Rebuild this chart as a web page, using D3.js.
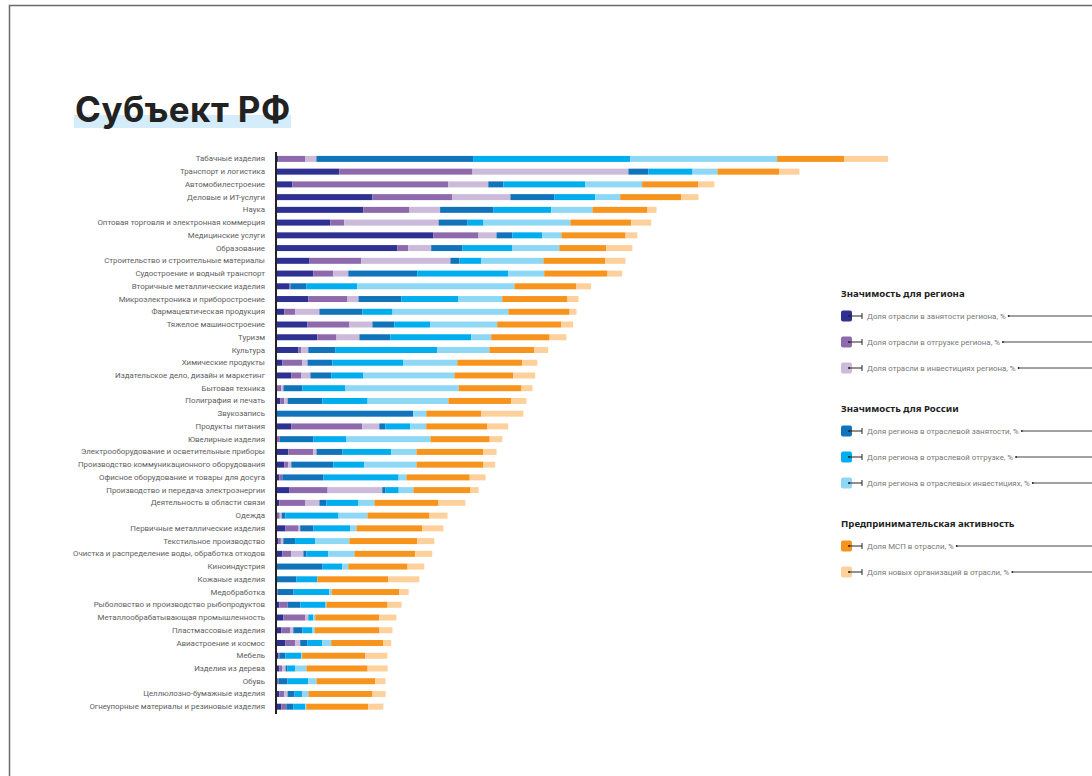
<!DOCTYPE html>
<html lang="ru">
<head>
<meta charset="utf-8">
<script src="https://cdn.jsdelivr.net/npm/d3@7"></script>
<style>
  html, body { margin: 0; padding: 0; background: #fff; }
  svg { display: block; }
</style>
</head>
<body>
<svg id="chart" width="1092" height="776"></svg>
<script>
// Отрасли (сверху вниз)
const categories = [
  "Табачные изделия", "Транспорт и логистика", "Автомобилестроение", "Деловые и ИТ-услуги",
  "Наука", "Оптовая торговля и электронная коммерция", "Медицинские услуги", "Образование",
  "Строительство и строительные материалы", "Судостроение и водный транспорт",
  "Вторичные металлические изделия", "Микроэлектроника и приборостроение",
  "Фармацевтическая продукция", "Тяжелое машиностроение", "Туризм", "Культура",
  "Химические продукты", "Издательское дело, дизайн и маркетинг", "Бытовая техника",
  "Полиграфия и печать", "Звукозапись", "Продукты питания", "Ювелирные изделия",
  "Электрооборудование и осветительные приборы", "Производство коммуникационного оборудования",
  "Офисное оборудование и товары для досуга", "Производство и передача электроэнергии",
  "Деятельность в области связи", "Одежда", "Первичные металлические изделия",
  "Текстильное производство", "Очистка и распределение воды, обработка отходов",
  "Киноиндустрия", "Кожаные изделия", "Медобработка", "Рыболовство и производство рыбопродуктов",
  "Металлообрабатывающая промышленность", "Пластмассовые изделия", "Авиастроение и космос",
  "Мебель", "Изделия из дерева", "Обувь", "Целлюлозно-бумажные изделия",
  "Огнеупорные материалы и резиновые изделия"
];

// Значимость для региона
const empRegion = [2.0, 62.9, 15.9, 95.9, 86.9, 53.9, 156.7, 120.8, 33.1, 36.7, 13.1, 31.8, 7.8, 31.0, 40.8, 22.0, 5.7, 14.7, 0, 3.7, 0, 14.7, 0, 11.8, 7.8, 2.9, 13.1, 2.9, 1.2, 9.0, 2.0, 5.7, 0, 0, 0, 2.9, 6.9, 4.9, 9.0, 2.0, 2.9, 1.2, 2.9, 4.9];
const shipRegion = [26.9, 133.1, 155.9, 80.0, 46.1, 13.9, 45.3, 11.0, 51.8, 20.0, 0.8, 39.2, 11.0, 42.0, 19.2, 2.9, 20.0, 10.2, 4.9, 4.1, 0, 71.0, 3.3, 24.9, 4.1, 2.9, 38.0, 26.1, 2.0, 13.1, 2.4, 9.0, 0, 0, 1.2, 8.2, 22.0, 9.0, 9.8, 0.8, 2.9, 0.8, 4.9, 4.9];
const invRegion = [11.0, 155.9, 40.0, 58.0, 30.6, 94.3, 18.0, 22.9, 89.0, 15.1, 0, 11.0, 24.1, 22.9, 22.9, 6.9, 5.3, 9.0, 2.0, 3.3, 0, 17.1, 0, 3.3, 2.9, 0, 54.7, 13.9, 2.0, 1.6, 2.4, 12.2, 0, 0, 0, 0, 2.9, 2.9, 4.9, 0, 3.3, 0, 3.3, 0];
// Значимость для России
const empRussia = [156.7, 20.0, 15.1, 44.1, 53.1, 29.0, 15.9, 31.0, 9.0, 69.0, 15.9, 42.9, 42.9, 22.0, 31.0, 26.9, 24.9, 20.8, 18.8, 34.7, 136.7, 6.1, 33.5, 25.7, 42.0, 41.2, 2.9, 6.9, 3.7, 13.1, 11.8, 2.9, 45.7, 20.0, 15.9, 12.7, 0, 9.0, 7.3, 6.1, 2.0, 9.0, 6.9, 6.9];
const shipRussia = [157.1, 44.1, 82.0, 40.8, 58.0, 15.9, 29.8, 50.2, 22.0, 91.0, 51.0, 57.1, 30.2, 35.9, 80.8, 102.0, 71.0, 32.2, 43.3, 45.3, 0, 24.9, 33.1, 49.0, 31.0, 75.1, 13.5, 32.2, 53.1, 37.1, 20.0, 22.0, 20.0, 20.8, 35.9, 25.3, 4.9, 10.2, 14.7, 15.9, 7.8, 20.8, 7.8, 12.2];
const invRussia = [146.9, 24.9, 56.7, 24.9, 41.2, 86.9, 19.2, 46.9, 62.0, 35.9, 157.1, 43.7, 115.9, 66.9, 20.0, 52.2, 53.9, 91.0, 113.1, 80.8, 13.1, 15.9, 84.1, 25.3, 52.2, 7.8, 14.7, 15.9, 29.0, 6.1, 34.3, 26.1, 6.1, 0, 2.0, 0.8, 2.0, 2.0, 9.0, 0.8, 11.0, 8.2, 6.1, 0.8];
// Предпринимательская активность
const smeShare = [66.9, 62.0, 56.3, 61.2, 55.1, 60.8, 64.1, 46.9, 62.0, 63.3, 62.0, 65.3, 61.2, 64.1, 58.4, 44.9, 64.9, 58.8, 62.9, 62.9, 55.1, 61.2, 59.2, 66.9, 66.9, 63.3, 57.1, 64.1, 62.0, 65.7, 67.8, 60.8, 59.2, 71.0, 67.8, 61.2, 64.1, 64.9, 52.2, 63.3, 61.2, 58.8, 64.1, 62.0];
const newOrgShare = [44.1, 20.0, 15.9, 17.1, 9.0, 20.0, 11.8, 26.1, 20.0, 14.7, 14.7, 11.0, 6.9, 11.8, 16.7, 13.9, 15.1, 22.0, 11.0, 15.1, 42.0, 20.8, 12.7, 13.1, 11.8, 15.9, 8.2, 26.9, 18.0, 21.2, 17.1, 17.1, 16.7, 31.0, 9.4, 13.9, 17.1, 13.1, 7.8, 22.0, 20.0, 10.2, 13.1, 15.1];

const seriesKeys = ["empRegion", "shipRegion", "invRegion", "empRussia", "shipRussia", "invRussia", "smeShare", "newOrgShare"];
const seriesData = { empRegion, shipRegion, invRegion, empRussia, shipRussia, invRussia, smeShare, newOrgShare };
const seriesColors = ["#2e3192", "#8e6aad", "#cbbad9", "#1174bb", "#00adee", "#8ed8f6", "#f7941d", "#fed09c"];

const legendGroups = [
  { title: "Значимость для региона", items: [
    "Доля отрасли в занятости региона, %",
    "Доля отрасли в отгрузке региона, %",
    "Доля отрасли в инвестициях региона, %"] },
  { title: "Значимость для России", items: [
    "Доля региона в отраслевой занятости, %",
    "Доля региона в отраслевой отгрузке, %",
    "Доля региона в отраслевых инвестициях, %"] },
  { title: "Предпринимательская активность", items: [
    "Доля МСП в отрасли, %",
    "Доля новых организаций в отрасли, %"] }
];

const svg = d3.select("#chart");
const W = 1092, H = 776;

// рамка листа
svg.append("path")
  .attr("d", `M9.5,${H} L9.5,5.5 L${W},5.5`)
  .attr("fill", "none").attr("stroke", "#6a6a6a").attr("stroke-width", 1.5);

// заголовок с подложкой
svg.append("rect").attr("x", 74).attr("y", 115).attr("width", 217).attr("height", 13).attr("fill", "#d5ecfa");
svg.append("text").attr("x", 75).attr("y", 122)
  .attr("font-family", "Inter, 'Noto Sans', sans-serif").attr("font-weight", 700)
  .attr("font-size", 35).attr("letter-spacing", 0.4).attr("fill", "#222").text("Субъект РФ");

// таблица для стека
const rows = categories.map((c, i) => {
  const r = { category: c };
  seriesKeys.forEach(k => { r[k] = seriesData[k][i]; });
  return r;
});
const stacked = d3.stack().keys(seriesKeys)(rows);

const x0 = 276.5;
const maxTotal = d3.max(rows, r => d3.sum(seriesKeys, k => r[k]));
const x = d3.scaleLinear().domain([0, maxTotal]).range([x0, x0 + maxTotal]);
const y = d3.scaleBand().domain(categories).range([152.6, 713]).paddingInner(0.53).paddingOuter(0.26);

const color = d3.scaleOrdinal().domain(seriesKeys).range(seriesColors);

svg.append("g").selectAll("g").data(stacked).join("g")
  .attr("fill", d => color(d.key))
  .selectAll("rect").data(d => d).join("rect")
  .attr("x", d => x(d[0]))
  .attr("y", d => y(d.data.category))
  .attr("width", d => Math.max(0, x(d[1]) - x(d[0])))
  .attr("height", y.bandwidth());

// подписи категорий
const yAxis = d3.axisLeft(y).tickSize(0).tickPadding(0);
const gy = svg.append("g").attr("transform", "translate(265,0)").call(yAxis);
gy.select(".domain").remove();
gy.selectAll("text")
  .attr("font-family", "Roboto, sans-serif").attr("font-size", 7.9).attr("fill", "#5e5e5e");

// ось
svg.append("line").attr("x1", 276).attr("x2", 276).attr("y1", 152).attr("y2", 714)
  .attr("stroke", "#222").attr("stroke-width", 2);

// легенда
const legendStarts = [297, 412, 527];
const itemOffsets = [19, 45, 71];
let si = 0;
legendGroups.forEach((g, gi) => {
  const gy0 = legendStarts[gi];
  svg.append("text").attr("x", 841).attr("y", gy0)
    .attr("font-family", "'Noto Sans', sans-serif").attr("font-weight", 700)
    .attr("font-size", 9.6).attr("fill", "#222").text(g.title);
  g.items.forEach((label, ii) => {
    const cy = gy0 + itemOffsets[ii];
    const item = svg.append("g");
    item.append("rect").attr("x", 841).attr("y", cy - 5.5).attr("width", 11).attr("height", 11)
      .attr("rx", 2).attr("fill", seriesColors[si]);
    item.append("circle").attr("cx", 849).attr("cy", cy).attr("r", 1).attr("fill", "#222");
    item.append("line").attr("x1", 849).attr("x2", 862).attr("y1", cy).attr("y2", cy)
      .attr("stroke", "#222").attr("stroke-width", 1);
    item.append("line").attr("x1", 862).attr("x2", 862).attr("y1", cy - 3).attr("y2", cy + 3)
      .attr("stroke", "#222").attr("stroke-width", 1);
    const t = item.append("text").attr("x", 867).attr("y", cy + 2.8)
      .attr("font-family", "Roboto, sans-serif").attr("font-size", 7.9).attr("fill", "#777").text(label);
    const tw = t.node().getComputedTextLength();
    const ex = 867 + tw + 3;
    item.append("circle").attr("cx", ex).attr("cy", cy).attr("r", 1).attr("fill", "#222");
    item.append("line").attr("x1", ex).attr("x2", W).attr("y1", cy).attr("y2", cy)
      .attr("stroke", "#444").attr("stroke-width", 1);
    si++;
  });
});
</script>
</body>
</html>
